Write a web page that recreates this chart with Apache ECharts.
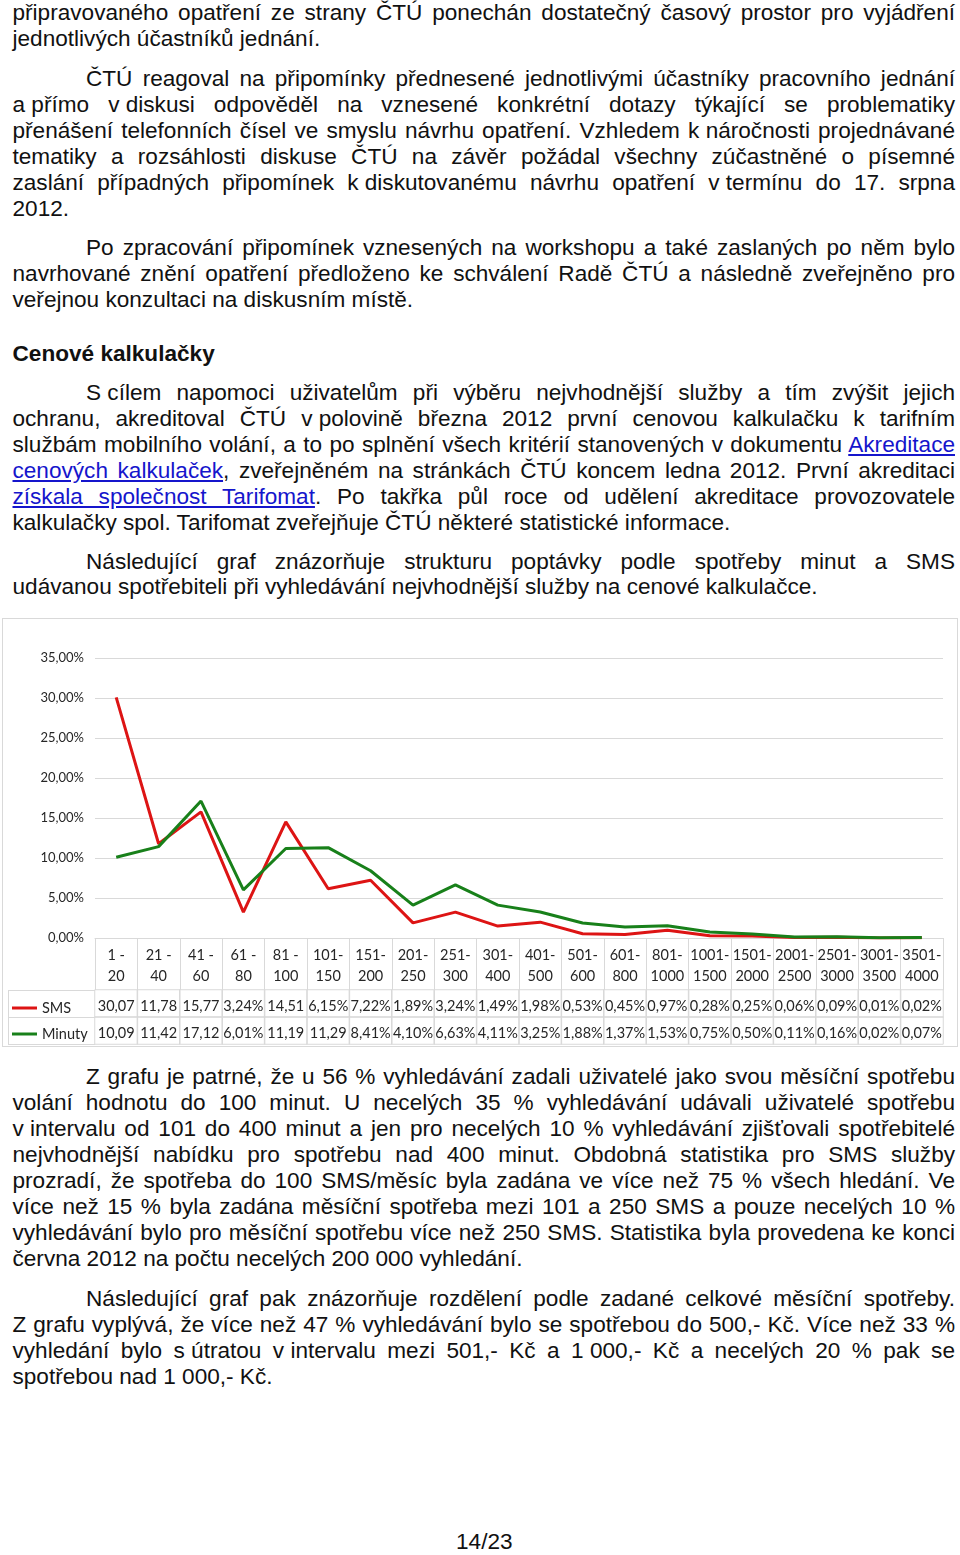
<!DOCTYPE html>
<html lang="cs">
<head>
<meta charset="utf-8">
<script src="https://cdn.jsdelivr.net/npm/echarts@6/dist/echarts.min.js"></script>
<style>
  html, body { margin:0; padding:0; background:#fff; }
  body { position:relative; width:960px; height:1555px; overflow:hidden;
         font-family:"Liberation Sans", Arial, sans-serif; font-size:22.6px; color:#111; }
  .p { position:absolute; left:12.5px; width:942.5px; line-height:25.95px; }
  .l { display:block; height:25.95px; white-space:nowrap; text-align:justify; text-align-last:justify; }
  .l.last { text-align:left; text-align-last:left; }
  .l.ind { padding-left:73.5px; }
  .g { display:inline-block; }
  .a { color:#1515cc; text-decoration:underline; }
  .h { font-weight:bold; }
  #box { position:absolute; left:2px; top:618px; width:956px; height:429px; box-sizing:border-box; border:1px solid #d9d9d9; }
  #chart { width:954px; height:427px; }
  #pg { position:absolute; left:456px; top:1528.5px; line-height:25.95px; }
</style>
</head>
<body>
<div class="p" style="top:0px">
  <span class="l">připravovaného opatření ze strany ČTÚ ponechán dostatečný časový prostor pro vyjádření</span>
  <span class="l last">jednotlivých účastníků jednání.</span>
</div>
<div class="p" style="top:65.9px">
  <span class="l ind">ČTÚ reagoval na připomínky přednesené jednotlivými účastníky pracovního jednání</span>
  <span class="l"><span class="g">a přímo</span> <span class="g">v diskusi</span> odpověděl na vznesené konkrétní dotazy týkající se problematiky</span>
  <span class="l">přenášení telefonních čísel ve smyslu návrhu opatření. Vzhledem <span class="g">k náročnosti</span> projednávané</span>
  <span class="l">tematiky a rozsáhlosti diskuse ČTÚ na závěr požádal všechny zúčastněné o písemné</span>
  <span class="l">zaslání případných připomínek <span class="g">k diskutovanému</span> návrhu opatření <span class="g">v termínu</span> do 17. srpna</span>
  <span class="l last">2012.</span>
</div>
<div class="p" style="top:234.9px">
  <span class="l ind">Po zpracování připomínek vznesených na workshopu a také zaslaných po něm bylo</span>
  <span class="l">navrhované znění opatření předloženo ke schválení Radě ČTÚ a následně zveřejněno pro</span>
  <span class="l last">veřejnou konzultaci na diskusním místě.</span>
</div>
<div class="p h" style="top:340.9px">
  <span class="l last">Cenové kalkulačky</span>
</div>
<div class="p" style="top:379.9px">
  <span class="l ind"><span class="g">S cílem</span> napomoci uživatelům při výběru nejvhodnější služby a tím zvýšit jejich</span>
  <span class="l">ochranu, akreditoval ČTÚ <span class="g">v polovině</span> března 2012 první cenovou kalkulačku k tarifním</span>
  <span class="l">službám mobilního volání, a to po splnění všech kritérií stanovených v dokumentu <span class="a">Akreditace</span></span>
  <span class="l"><span class="a">cenových kalkulaček</span>, zveřejněném na stránkách ČTÚ koncem ledna 2012. První akreditaci</span>
  <span class="l"><span class="a">získala společnost Tarifomat</span>. Po takřka půl roce od udělení akreditace provozovatele</span>
  <span class="l last">kalkulačky spol. Tarifomat zveřejňuje ČTÚ některé statistické informace.</span>
</div>
<div class="p" style="top:548.5px">
  <span class="l ind">Následující graf znázorňuje strukturu poptávky podle spotřeby minut a SMS</span>
  <span class="l last">udávanou spotřebiteli při vyhledávání nejvhodnější služby na cenové kalkulačce.</span>
</div>

<div id="box"><div id="chart"></div></div>

<div class="p" style="top:1064.2px">
  <span class="l ind">Z grafu je patrné, že u 56 % vyhledávání zadali uživatelé jako svou měsíční spotřebu</span>
  <span class="l">volání hodnotu do 100 minut. U necelých 35 % vyhledávání udávali uživatelé spotřebu</span>
  <span class="l"><span class="g">v intervalu</span> od 101 do 400 minut a jen pro necelých 10 % vyhledávání zjišťovali spotřebitelé</span>
  <span class="l">nejvhodnější nabídku pro spotřebu nad 400 minut. Obdobná statistika pro SMS služby</span>
  <span class="l">prozradí, že spotřeba do 100 SMS/měsíc byla zadána ve více než 75 % všech hledání. Ve</span>
  <span class="l">více než 15 % byla zadána měsíční spotřeba mezi 101 a 250 SMS a pouze necelých 10 %</span>
  <span class="l">vyhledávání bylo pro měsíční spotřebu více než 250 SMS. Statistika byla provedena ke konci</span>
  <span class="l last">června 2012 na počtu necelých 200 000 vyhledání.</span>
</div>
<div class="p" style="top:1285.9px">
  <span class="l ind">Následující graf pak znázorňuje rozdělení podle zadané celkové měsíční spotřeby.</span>
  <span class="l">Z grafu vyplývá, že více než 47 % vyhledávání bylo se spotřebou do 500,- Kč. Více než 33 %</span>
  <span class="l">vyhledání bylo <span class="g">s útratou</span> <span class="g">v intervalu</span> mezi 501,- Kč a <span class="g">1 000,-</span> Kč a necelých 20 % pak se</span>
  <span class="l last">spotřebou nad 1 000,- Kč.</span>
</div>
<div id="pg">14/23</div>

<script>
// ---- data ----
const categories = ['1 - 20','21 - 40','41 - 60','61 - 80','81 - 100','101-150','151-200','201-250','251-300','301-400',
                    '401-500','501-600','601-800','801-1000','1001-1500','1501-2000','2001-2500','2501-3000','3001-3500','3501-4000'];
const smsValues = [30.07, 11.78, 15.77, 3.24, 14.51, 6.15, 7.22, 1.89, 3.24, 1.49,
                   1.98, 0.53, 0.45, 0.97, 0.28, 0.25, 0.06, 0.09, 0.01, 0.02];
const minutyValues = [10.09, 11.42, 17.12, 6.01, 11.19, 11.29, 8.41, 4.10, 6.63, 4.11,
                      3.25, 1.88, 1.37, 1.53, 0.75, 0.50, 0.11, 0.16, 0.02, 0.07];
const seriesNames = ['SMS', 'Minuty'];
const yMin = 0, yMax = 35, yStep = 5;

// ---- helpers ----
const fmtPct = v => v.toFixed(2).replace('.', ',') + '%';
// the narrow table columns clip the "%" of two-digit values, as in the source
const cellText = v => (v >= 10 ? fmtPct(v).slice(0, -1) : fmtPct(v));
const catLabel = s => s.replace(/-\s*/, '-\n');

const tableRows = [smsValues, minutyValues];
const tableData = [];
tableRows.forEach((row, r) => row.forEach((v, i) => tableData.push([i, r, v])));

const FONT = 'Lato';
const TXT = '#262626';
const GRID_COL = '#d9d9d9';

const legendBase = {
  orient: 'vertical', left: 9, padding: 0,
  icon: 'rect', itemWidth: 25, itemHeight: 3,
  textStyle: { fontFamily: FONT, fontSize: 14.5, lineHeight: 16, color: TXT },
  selectedMode: false
};

const chart = echarts.init(document.getElementById('chart'), null, { renderer: 'canvas' });
chart.setOption({
  animation: false,
  color: ['#dd1414', '#18801a'],
  grid: [
    { left: 92, width: 848, top: 39, height: 280 },
    { left: 92, width: 848, top: 371, height: 54 }
  ],
  legend: [
    Object.assign({}, legendBase, { data: [seriesNames[0]], top: 381 }),
    Object.assign({}, legendBase, { data: [seriesNames[1]], top: 407 })
  ],
  xAxis: [
    {
      type: 'category', gridIndex: 0, data: categories,
      axisLine: { lineStyle: { color: GRID_COL, width: 1 } },
      axisTick: { show: true, interval: 0, length: 52, lineStyle: { color: GRID_COL } },
      axisLabel: { interval: 0, formatter: catLabel, fontFamily: FONT, fontSize: 14.5,
                   lineHeight: 21, margin: 7, color: TXT }
    },
    {
      type: 'category', gridIndex: 1, data: categories,
      axisLine: { show: false }, axisTick: { show: false }, axisLabel: { show: false }
    }
  ],
  yAxis: [
    {
      type: 'value', gridIndex: 0, min: yMin, max: yMax, interval: yStep,
      axisLine: { show: false }, axisTick: { show: false },
      splitLine: { lineStyle: { color: GRID_COL } },
      axisLabel: { formatter: v => fmtPct(v), fontFamily: FONT, fontSize: 13, margin: 11, color: TXT }
    },
    {
      type: 'category', gridIndex: 1, data: seriesNames, inverse: true,
      axisLine: { show: false }, axisLabel: { show: false },
      axisTick: { show: true, length: 87, lineStyle: { color: GRID_COL } }
    }
  ],
  series: [
    { name: seriesNames[0], type: 'line', xAxisIndex: 0, yAxisIndex: 0, data: smsValues,
      showSymbol: false, symbol: 'none', lineStyle: { width: 3 }, silent: true },
    { name: seriesNames[1], type: 'line', xAxisIndex: 0, yAxisIndex: 0, data: minutyValues,
      showSymbol: false, symbol: 'none', lineStyle: { width: 3 }, silent: true },
    { type: 'heatmap', xAxisIndex: 1, yAxisIndex: 1, data: tableData, silent: true,
      itemStyle: { color: 'rgba(255,255,255,0)', borderColor: GRID_COL, borderWidth: 1 },
      label: { show: true, formatter: p => cellText(p.value[2]), fontFamily: FONT, fontSize: 14.5,
               color: TXT, offset: [0, 3] },
      emphasis: { disabled: true } }
  ],
  graphic: [
    { type: 'line', shape: { x1: 5.5, y1: 371, x2: 5.5, y2: 425 }, style: { stroke: GRID_COL, lineWidth: 1 }, silent: true }
  ]
});
</script>
</body>
</html>
